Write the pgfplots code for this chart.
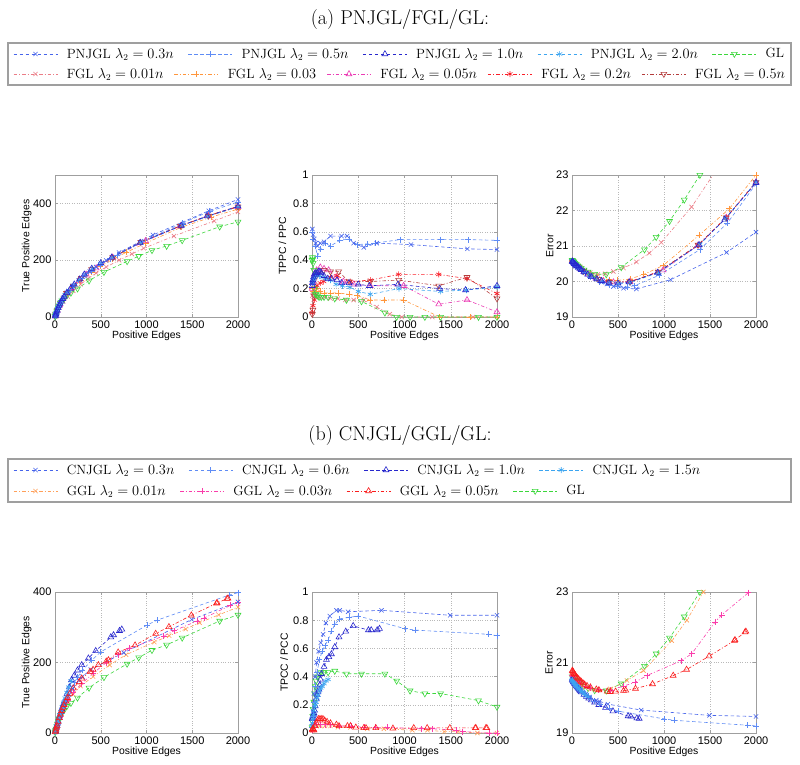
\documentclass[border=0pt]{standalone}
\usepackage{fontspec}
\usepackage{pgfplots}
\usepackage{pgfplotstable}
\pgfplotsset{compat=1.18}
\usetikzlibrary{plotmarks}
\newfontfamily\arial{Liberation Sans}
\newcommand\tickf{\arial\fontsize{11}{13}\selectfont}
\newcommand\labf{\arial\fontsize{10.4}{12}\selectfont}

% series colours
\definecolor{cA}{RGB}{70,100,235}
\definecolor{cB}{RGB}{95,140,245}
\definecolor{cC}{RGB}{40,40,205}
\definecolor{cD}{RGB}{60,165,240}
\definecolor{cGL}{RGB}{60,215,60}
\definecolor{cF1}{RGB}{235,125,135}
\definecolor{cF2}{RGB}{255,150,60}
\definecolor{cF3}{RGB}{235,60,180}
\definecolor{cF4}{RGB}{250,30,40}
\definecolor{cF5}{RGB}{180,60,60}
\definecolor{cG1}{RGB}{255,160,90}
\definecolor{cG2}{RGB}{250,60,170}
\definecolor{cG3}{RGB}{250,30,30}

\pgfplotsset{
  base/.style={line width=0.6pt, mark size=3pt},
  dsh/.style={dash pattern=on 3.5pt off 2.5pt},
  dd/.style={dash pattern=on 3.5pt off 2pt on 1pt off 2pt},
  mk/.style={mark options={solid, line width=0.6pt}},
  mkv/.style={mark options={solid, line width=0.6pt, rotate=180}},
  sA/.style={base, dsh, mk, color=cA, mark=x},
  sB/.style={base, dsh, mk, color=cB, mark=+},
  sC/.style={base, dsh, mk, color=cC, mark=triangle, mark size=3.4pt},
  sD/.style={base, dsh, mk, color=cD, mark=asterisk},
  sGL/.style={base, dsh, mkv, color=cGL, mark=triangle, mark size=3.4pt},
  sF1/.style={base, dd, mk, color=cF1, mark=x},
  sF2/.style={base, dd, mk, color=cF2, mark=+},
  sF3/.style={base, dd, mk, color=cF3, mark=triangle, mark size=3.4pt},
  sF4/.style={base, dd, mk, color=cF4, mark=asterisk},
  sF5/.style={base, dd, mkv, color=cF5, mark=triangle, mark size=3.4pt},
  sG1/.style={base, dd, mk, color=cG1, mark=x},
  sG2/.style={base, dd, mk, color=cG2, mark=+},
  sG3/.style={base, dd, mk, color=cG3, mark=triangle, mark size=3.4pt},
  panel/.style={scale only axis, anchor=south west, width=183pt, height=142pt,
    xmin=0, xmax=2000, xtick={0,500,1000,1500,2000}, scaled ticks=false,
    /pgf/number format/1000 sep={},
    grid=major, grid style={dotted, gray!55, line width=0.5pt},
    axis line style={gray!75, line width=0.5pt},
    major tick style={gray!75, line width=0.5pt}, major tick length=3pt, tick align=inside,
    ticklabel style={font=\tickf}, label style={font=\labf},
    /pgf/number format/assume math mode=true,
    xlabel={Positive Edges},
    xlabel style={at={(axis description cs:0.5,0)}, anchor=north, yshift=-14pt, inner sep=0pt}},
  legrow/.style={hide axis, scale only axis, width=10pt, height=10pt,
    xmin=0, xmax=1, ymin=0, ymax=1, anchor=west, legend columns=-1,
    legend style={at={(0,0.5)}, anchor=west, draw=none, fill=none, inner sep=0pt,
      font=\fontsize{13.4}{15}\selectfont, nodes={inner sep=0pt},
      /tikz/every odd column/.append style={column sep=9pt},
      /tikz/every even column/.append style={column sep=#1}},
    legend image code/.code={\draw[mark repeat=2,mark phase=2]
      plot coordinates {(0pt,0pt)(22pt,0pt)(44pt,0pt)};}},
  legrow/.default=14pt,
}

\begin{document}

% ---------- (a) data: x, true positive edges, TPPC/PPC, error ----------
\pgfplotstableread{
x tpe r err
4 4 0.62 20.55
12 12 0.58 20.52
25 24 0.55 20.47
40 37 0.52 20.43
60 52 0.50 20.40
90 68 0.52 20.35
130 86 0.53 20.25
200 108 0.57 20.13
320 145 0.57 19.98
380 160 0.57 19.93
450 176 0.52 19.86
560 199 0.49 19.81
700 227 0.52 19.79
1070 289 0.51 20.05
1680 374 0.48 20.82
2000 414 0.475 21.39
}\tA
\pgfplotstableread{
x tpe r err
5 5 0.60 20.55
15 15 0.55 20.52
35 33 0.50 20.47
60 51 0.43 20.42
95 70 0.48 20.35
140 88 0.52 20.25
200 108 0.50 20.12
300 137 0.54 19.98
400 162 0.55 19.90
490 183 0.51 19.86
600 205 0.515 19.85
680 218 0.52 19.88
950 265 0.545 20.18
1390 330 0.545 20.90
1690 372 0.545 21.65
2000 405 0.54 22.75
}\tB
\pgfplotstableread{
x tpe r err
3 3 0.22 20.57
6 6 0.24 20.56
10 10 0.26 20.55
16 16 0.28 20.53
25 23 0.30 20.50
35 32 0.31 20.48
45 40 0.30 20.45
55 47 0.31 20.43
70 55 0.32 20.40
85 64 0.32 20.36
100 72 0.31 20.33
130 85 0.29 20.27
170 100 0.27 20.20
210 115 0.27 20.13
270 133 0.26 20.07
320 150 0.24 20.02
400 170 0.24 19.97
500 190 0.23 19.95
620 210 0.22 19.98
930 262 0.23 20.25
1380 322 0.20 21.03
1660 355 0.19 21.75
2000 390 0.22 22.78
}\tC
\pgfplotstableread{
x tpe r err
2 2 0.24 20.58
4 4 0.24 20.57
8 8 0.25 20.56
14 14 0.26 20.54
20 19 0.27 20.52
27 25 0.28 20.50
35 32 0.29 20.48
45 40 0.30 20.46
55 47 0.30 20.44
65 53 0.30 20.41
80 62 0.29 20.38
110 78 0.28 20.32
150 94 0.27 20.25
200 112 0.26 20.17
260 130 0.23 20.08
330 150 0.22 20.02
410 170 0.21 19.97
500 188 0.18 19.94
630 210 0.16 19.97
940 262 0.20 20.25
1390 322 0.18 21.05
1670 354 0.19 21.78
2000 388 0.21 22.80
}\tD
\pgfplotstableread{
x tpe ppc pcc err
2 2 0.40 0.04 20.60
5 5 0.42 0.08 20.59
8 8 0.41 0.12 20.58
12 12 0.38 0.17 20.57
20 19 0.33 0.22 20.55
28 26 0.20 0.28 20.52
36 33 0.16 0.33 20.50
45 40 0.16 0.37 20.48
60 50 0.15 0.40 20.45
76 58 0.14 0.42 20.42
100 65 0.14 0.43 20.38
130 76 0.14 0.43 20.33
174 85 0.14 0.43 20.27
246 100 0.13 0.44 20.21
372 128 0.12 0.42 20.20
535 158 0.11 0.42 20.40
788 196 0.03 0.42 20.90
915 214 0.00 0.37 21.25
1060 235 0.00 0.30 21.70
1220 250 0.00 0.28 22.30
1390 270 0.00 0.28 23.00
1800 318 0.00 0.23 24.80
2000 335 0.00 0.185 25.80
}\tGL
\pgfplotstableread{
x tpe r err
3 3 0.15 20.60
12 11 0.16 20.57
30 24 0.15 20.52
55 38 0.14 20.47
90 55 0.14 20.40
140 72 0.14 20.32
200 92 0.13 20.25
280 115 0.13 20.20
360 135 0.12 20.22
450 155 0.12 20.28
560 176 0.12 20.38
700 200 0.07 20.55
840 222 0.02 20.80
970 242 0.00 21.10
1300 285 0.00 22.10
1740 338 0.00 23.80
2000 370 0.00 24.60
}\tFa
\pgfplotstableread{
x tpe r err
3 3 0.20 20.58
10 10 0.18 20.55
25 23 0.20 20.50
50 43 0.20 20.44
90 64 0.18 20.37
130 82 0.17 20.30
200 106 0.17 20.20
280 128 0.17 20.12
400 158 0.16 20.05
490 178 0.15 20.03
630 203 0.12 20.07
780 228 0.12 20.20
990 260 0.12 20.45
1380 316 0.00 21.30
1710 352 0.00 22.05
2000 380 0.00 23.00
}\tFb
\pgfplotstableread{
x tpe r err
3 3 0.20 20.57
10 10 0.25 20.55
25 23 0.30 20.50
50 43 0.33 20.45
90 66 0.35 20.37
130 85 0.34 20.28
180 103 0.33 20.20
260 128 0.28 20.09
340 150 0.25 20.02
450 172 0.23 19.98
630 210 0.22 20.00
990 268 0.22 20.32
1370 320 0.09 21.02
1676 356 0.12 21.80
2000 388 0.035 22.80
}\tFc
\pgfplotstableread{
x tpe r err
3 3 0.03 20.57
10 10 0.08 20.55
25 23 0.12 20.50
54 46 0.22 20.44
90 66 0.24 20.37
126 83 0.25 20.29
200 110 0.28 20.17
270 132 0.29 20.08
414 170 0.25 19.98
631 210 0.26 19.99
937 264 0.30 20.27
1370 321 0.30 21.03
1676 357 0.27 21.80
2000 390 0.165 22.80
}\tFd
\pgfplotstableread{
x tpe r err
3 3 0.02 20.57
10 10 0.05 20.55
25 23 0.15 20.50
60 50 0.30 20.43
126 84 0.33 20.29
200 110 0.32 20.17
288 137 0.32 20.06
400 168 0.25 19.98
631 210 0.25 19.99
937 264 0.26 20.27
1370 321 0.22 21.03
1676 356 0.28 21.80
2000 388 0.13 22.80
}\tFe

% ---------- (b) data: x, true positive edges, TPCC/PCC, error ----------
\pgfplotstableread{
x tpe r err
3 3 0.05 20.52
10 10 0.15 20.48
20 19 0.28 20.44
35 33 0.40 20.38
50 46 0.50 20.33
70 61 0.58 20.28
95 78 0.64 20.22
120 93 0.70 20.16
150 108 0.78 20.10
192 126 0.83 20.02
264 150 0.87 19.93
300 160 0.87 19.90
390 180 0.86 19.82
752 228 0.87 19.65
1494 322 0.835 19.50
2000 372 0.835 19.47
}\uA
\pgfplotstableread{
x tpe r err
3 3 0.04 20.52
10 10 0.12 20.48
20 19 0.22 20.43
35 33 0.33 20.37
55 51 0.43 20.30
80 70 0.52 20.24
110 90 0.58 20.17
140 108 0.62 20.10
174 126 0.66 20.04
210 143 0.72 19.97
246 158 0.77 19.90
300 178 0.81 19.82
400 206 0.82 19.70
499 230 0.83 19.62
1005 306 0.74 19.40
1114 320 0.73 19.36
1910 392 0.70 19.22
2000 398 0.69 19.20
}\uB
\pgfplotstableread{
x tpe r err
3 3 0.10 20.52
6 6 0.11 20.50
10 10 0.12 20.48
16 16 0.13 20.45
22 21 0.14 20.43
28 27 0.16 20.40
35 33 0.19 20.38
47 44 0.24 20.33
56 52 0.27 20.30
65 60 0.29 20.27
74 68 0.31 20.25
83 75 0.34 20.22
92 82 0.38 20.19
101 89 0.42 20.16
130 110 0.47 20.09
156 130 0.52 20.03
182 151 0.54 19.98
210 163 0.56 19.93
246 178 0.61 19.87
292 193 0.68 19.80
365 212 0.72 19.72
445 233 0.76 19.62
610 272 0.73 19.48
640 278 0.73 19.47
705 290 0.73 19.42
730 294 0.74 19.41
}\uC
\pgfplotstableread{
x tpe r err
2 2 0.05 20.52
5 5 0.07 20.50
10 10 0.10 20.47
15 15 0.13 20.45
20 20 0.16 20.43
28 27 0.19 20.40
36 35 0.20 20.37
45 43 0.22 20.34
55 52 0.25 20.31
65 61 0.27 20.28
80 74 0.30 20.24
95 87 0.32 20.20
110 99 0.33 20.17
130 115 0.35 20.12
150 130 0.37 20.08
175 148 0.38 20.03
}\uD
\pgfplotstableread{
x tpe r err
3 3 0.02 20.62
10 10 0.05 20.58
25 23 0.06 20.52
50 44 0.05 20.45
90 68 0.05 20.38
140 90 0.05 20.30
200 110 0.05 20.25
280 133 0.04 20.22
416 160 0.04 20.25
597 193 0.03 20.49
777 222 0.03 20.77
1085 258 0.02 21.62
1248 276 0.02 22.20
1428 295 0.01 23.00
1580 313 0.01 23.70
1788 335 0.00 24.60
2000 357 0.00 25.60
}\uE
\pgfplotstableread{
x tpe r err
3 3 0.02 20.65
10 10 0.06 20.60
25 23 0.07 20.55
50 45 0.06 20.48
90 70 0.06 20.40
140 93 0.06 20.33
200 115 0.06 20.27
290 140 0.05 20.23
420 170 0.05 20.22
560 200 0.04 20.33
687 222 0.04 20.44
814 240 0.04 20.63
1186 275 0.03 21.05
1302 290 0.03 21.25
1555 318 0.02 22.15
1627 326 0.01 22.35
1917 362 0.00 22.98
2000 370 0.00 23.25
}\uF
\pgfplotstableread{
x tpe r err
3 3 0.02 20.77
7 7 0.03 20.76
11 11 0.03 20.74
16 16 0.02 20.71
22 21 0.02 20.68
34 32 0.05 20.64
47 43 0.07 20.60
60 53 0.09 20.56
72 63 0.10 20.53
86 72 0.10 20.49
100 80 0.10 20.46
118 90 0.10 20.42
137 100 0.09 20.38
163 112 0.08 20.34
200 127 0.07 20.30
264 145 0.06 20.24
292 155 0.05 20.22
383 174 0.05 20.18
416 180 0.05 20.17
474 193 0.04 20.18
560 203 0.036 20.20
584 207 0.036 20.21
690 229 0.036 20.26
875 249 0.033 20.39
1100 282 0.036 20.63
1245 301 0.036 20.80
1490 334 0.036 21.18
1765 368 0.036 21.62
1772 369 0.036 21.64
1880 381 0.036 21.86
1890 382 0.036 21.88
}\uG

\begin{tikzpicture}[x=1pt,y=1pt]
\useasboundingbox (0,0) rectangle (800,-764);

% ===================== (a) =====================
\node[font=\fontsize{20}{24}\selectfont] at (400,-20) {(a) PNJGL/FGL/GL:};
\draw[gray!75, line width=1.2pt] (8,-43) rectangle (791,-85);

\begin{axis}[legrow, at={(13pt,-54pt)}]
\addlegendimage{sA}\addlegendentry{PNJGL $\lambda_2 = 0.3n$}
\addlegendimage{sB}\addlegendentry{PNJGL $\lambda_2 = 0.5n$}
\addlegendimage{sC}\addlegendentry{PNJGL $\lambda_2 = 1.0n$}
\addlegendimage{sD}\addlegendentry{PNJGL $\lambda_2 = 2.0n$}
\addlegendimage{sGL}\addlegendentry{GL}
\end{axis}
\begin{axis}[legrow=10.5pt, at={(13pt,-74pt)}]
\addlegendimage{sF1}\addlegendentry{FGL $\lambda_2 = 0.01n$}
\addlegendimage{sF2}\addlegendentry{FGL $\lambda_2 = 0.03$}
\addlegendimage{sF3}\addlegendentry{FGL $\lambda_2 = 0.05n$}
\addlegendimage{sF4}\addlegendentry{FGL $\lambda_2 = 0.2n$}
\addlegendimage{sF5}\addlegendentry{FGL $\lambda_2 = 0.5n$}
\end{axis}

\begin{axis}[panel, at={(55pt,-317pt)}, ymin=0, ymax=500, ytick={0,200,400},
  ylabel={True Positive Edges}, ylabel style={at={(axis description cs:-0.155,0.5)}, anchor=center}]
\addplot[sF1] table[x=x,y=tpe]{\tFa};
\addplot[sF2] table[x=x,y=tpe]{\tFb};
\addplot[sF3] table[x=x,y=tpe]{\tFc};
\addplot[sF4] table[x=x,y=tpe]{\tFd};
\addplot[sF5] table[x=x,y=tpe]{\tFe};
\addplot[sGL] table[x=x,y=tpe]{\tGL};
\addplot[sD] table[x=x,y=tpe]{\tD};
\addplot[sB] table[x=x,y=tpe]{\tB};
\addplot[sA] table[x=x,y=tpe]{\tA};
\addplot[sC] table[x=x,y=tpe]{\tC};
\end{axis}

\begin{axis}[panel, at={(312pt,-317pt)}, width=185pt, ymin=0, ymax=1, ytick={0,0.2,...,1},
  ylabel={TPPC / PPC}, ylabel style={at={(axis description cs:-0.16,0.5)}, anchor=center}]
\addplot[sF1] table[x=x,y=r]{\tFa};
\addplot[sF2] table[x=x,y=r]{\tFb};
\addplot[sF3] table[x=x,y=r]{\tFc};
\addplot[sF4] table[x=x,y=r]{\tFd};
\addplot[sF5] table[x=x,y=r]{\tFe};
\addplot[sGL] table[x=x,y=ppc]{\tGL};
\addplot[sD] table[x=x,y=r]{\tD};
\addplot[sB] table[x=x,y=r]{\tB};
\addplot[sA] table[x=x,y=r]{\tA};
\addplot[sC] table[x=x,y=r]{\tC};
\end{axis}

\begin{axis}[panel, at={(572pt,-317pt)}, width=184pt, ymin=19, ymax=23, ytick={19,20,21,22,23},
  ylabel={Error}, ylabel style={at={(axis description cs:-0.12,0.5)}, anchor=center}]
\addplot[sF1] table[x=x,y=err]{\tFa};
\addplot[sF2] table[x=x,y=err]{\tFb};
\addplot[sF3] table[x=x,y=err]{\tFc};
\addplot[sF4] table[x=x,y=err]{\tFd};
\addplot[sF5] table[x=x,y=err]{\tFe};
\addplot[sGL] table[x=x,y=err]{\tGL};
\addplot[sD] table[x=x,y=err]{\tD};
\addplot[sB] table[x=x,y=err]{\tB};
\addplot[sA] table[x=x,y=err]{\tA};
\addplot[sC] table[x=x,y=err]{\tC};
\end{axis}

% ===================== (b) =====================
\node[font=\fontsize{20}{24}\selectfont] at (400,-435) {(b) CNJGL/GGL/GL:};
\draw[gray!75, line width=1.2pt] (8,-459) rectangle (791,-502);

\begin{axis}[legrow, at={(13pt,-470pt)}]
\addlegendimage{sA}\addlegendentry{CNJGL $\lambda_2 = 0.3n$}
\addlegendimage{sB}\addlegendentry{CNJGL $\lambda_2 = 0.6n$}
\addlegendimage{sC}\addlegendentry{CNJGL $\lambda_2 = 1.0n$}
\addlegendimage{sD}\addlegendentry{CNJGL $\lambda_2 = 1.5n$}
\end{axis}
\begin{axis}[legrow, at={(13pt,-491pt)}]
\addlegendimage{sG1}\addlegendentry{GGL $\lambda_2 = 0.01n$}
\addlegendimage{sG2}\addlegendentry{GGL $\lambda_2 = 0.03n$}
\addlegendimage{sG3}\addlegendentry{GGL $\lambda_2 = 0.05n$}
\addlegendimage{sGL}\addlegendentry{GL}
\end{axis}

\begin{axis}[panel, at={(55pt,-733pt)}, height=141pt, ymin=0, ymax=400, ytick={0,200,400},
  ylabel={True Positive Edges}, ylabel style={at={(axis description cs:-0.155,0.5)}, anchor=center}]
\addplot[sGL] table[x=x,y=tpe]{\tGL};
\addplot[sG1] table[x=x,y=tpe]{\uE};
\addplot[sG2] table[x=x,y=tpe]{\uF};
\addplot[sC] table[x=x,y=tpe]{\uC};
\addplot[sB] table[x=x,y=tpe]{\uB};
\addplot[sA] table[x=x,y=tpe]{\uA};
\addplot[sD] table[x=x,y=tpe]{\uD};
\addplot[sG3] table[x=x,y=tpe]{\uG};
\end{axis}

\begin{axis}[panel, at={(312pt,-733pt)}, width=185pt, height=141pt, ymin=0, ymax=1, ytick={0,0.2,...,1},
  ylabel={TPCC / PCC}, ylabel style={at={(axis description cs:-0.15,0.5)}, anchor=center}]
\addplot[sGL] table[x=x,y=pcc]{\tGL};
\addplot[sG1] table[x=x,y=r]{\uE};
\addplot[sG2] table[x=x,y=r]{\uF};
\addplot[sC] table[x=x,y=r]{\uC};
\addplot[sB] table[x=x,y=r]{\uB};
\addplot[sA] table[x=x,y=r]{\uA};
\addplot[sD] table[x=x,y=r]{\uD};
\addplot[sG3] table[x=x,y=r]{\uG};
\end{axis}

\begin{axis}[panel, at={(572pt,-733pt)}, width=184pt, height=141pt, ymin=19, ymax=23, ytick={19,21,23},
  ylabel={Error}, ylabel style={at={(axis description cs:-0.125,0.5)}, anchor=center}]
\addplot[sGL] table[x=x,y=err]{\tGL};
\addplot[sG1] table[x=x,y=err]{\uE};
\addplot[sG2] table[x=x,y=err]{\uF};
\addplot[sC] table[x=x,y=err]{\uC};
\addplot[sB] table[x=x,y=err]{\uB};
\addplot[sA] table[x=x,y=err]{\uA};
\addplot[sD] table[x=x,y=err]{\uD};
\addplot[sG3] table[x=x,y=err]{\uG};
\end{axis}

\end{tikzpicture}
\end{document}
